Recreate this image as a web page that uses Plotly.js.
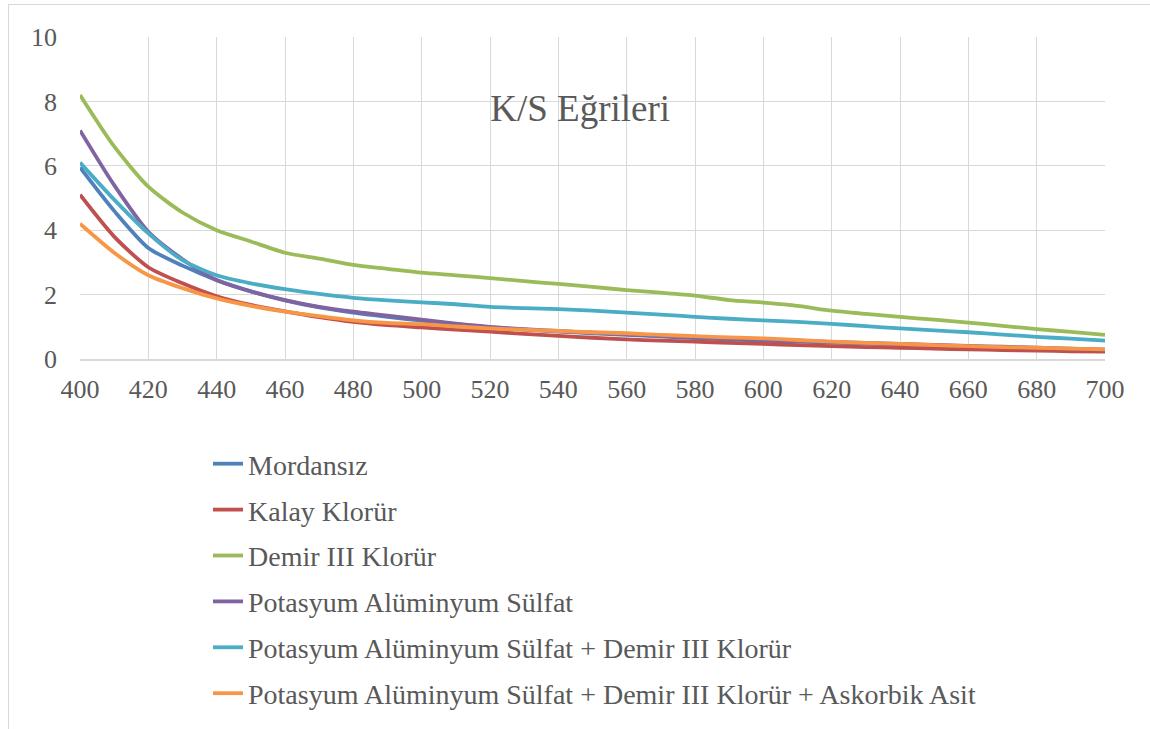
<!DOCTYPE html>
<html>
<head>
<meta charset="utf-8">
<script src="https://cdn.plot.ly/plotly-3.0.1.min.js"></script>
<style>
html,body{margin:0;padding:0;background:#fff;}
#wrap{position:relative;width:1150px;height:729px;overflow:hidden;}
#chart{position:absolute;left:0;top:0;width:1150px;height:729px;}
#frame{position:absolute;left:8px;top:4px;width:1170px;height:760px;border:1px solid #d9d9d9;pointer-events:none;}
</style>
</head>
<body>
<div id="wrap"><div id="chart"></div><div id="frame"></div></div>
<script>
const wavelengths = [400,410,420,430,440,450,460,470,480,490,500,510,520,530,540,550,560,570,580,590,600,610,620,630,640,650,660,670,680,690,700];

const seriesNames = [
  "Mordansız",
  "Kalay Klorür",
  "Demir III Klorür",
  "Potasyum Alüminyum Sülfat",
  "Potasyum Alüminyum Sülfat + Demir III Klorür",
  "Potasyum Alüminyum Sülfat + Demir III Klorür + Askorbik Asit"
];

const mordansiz = [5.95,4.6,3.45,2.9,2.45,2.1,1.82,1.6,1.44,1.31,1.19,1.08,0.98,0.91,0.85,0.80,0.75,0.70,0.65,0.61,0.57,0.54,0.51,0.48,0.45,0.42,0.39,0.36,0.33,0.30,0.27];
const kalayKlorur = [5.1,3.8,2.85,2.35,1.95,1.68,1.48,1.3,1.15,1.05,0.98,0.91,0.85,0.78,0.72,0.66,0.61,0.57,0.54,0.50,0.47,0.43,0.40,0.37,0.35,0.32,0.30,0.28,0.26,0.24,0.23];
const demirKlorur = [8.2,6.6,5.35,4.55,4.0,3.65,3.3,3.12,2.92,2.8,2.68,2.6,2.51,2.42,2.33,2.24,2.14,2.06,1.97,1.83,1.75,1.65,1.5,1.4,1.31,1.22,1.13,1.03,0.93,0.84,0.75];
const potasyumAS = [7.1,5.4,3.95,3.1,2.45,2.1,1.83,1.62,1.47,1.35,1.22,1.1,1.0,0.93,0.87,0.82,0.77,0.72,0.67,0.63,0.59,0.56,0.53,0.50,0.47,0.44,0.41,0.38,0.35,0.32,0.29];
const potasyumDemir = [6.1,4.95,3.9,3.07,2.6,2.35,2.17,2.02,1.9,1.82,1.76,1.7,1.62,1.58,1.55,1.5,1.44,1.38,1.31,1.25,1.2,1.15,1.09,1.02,0.95,0.89,0.83,0.76,0.69,0.63,0.57];
const potasyumDemirAsit = [4.2,3.3,2.6,2.2,1.88,1.65,1.47,1.33,1.2,1.12,1.08,1.01,0.95,0.91,0.87,0.83,0.8,0.75,0.71,0.67,0.64,0.59,0.54,0.5,0.47,0.43,0.4,0.37,0.35,0.32,0.3];

const seriesValues = [mordansiz,kalayKlorur,demirKlorur,potasyumAS,potasyumDemir,potasyumDemirAsit];
const colors = ["#4F81BD","#C0504D","#9BBB59","#8064A2","#4BACC6","#F79646"];

const xTicks = [400,420,440,460,480,500,520,540,560,580,600,620,640,660,680,700];
const yTicks = [0,2,4,6,8,10];

const FONT = "'Liberation Serif','Times New Roman',serif";

const traces = seriesValues.map((vals,i)=>({
  x: wavelengths, y: vals, name: seriesNames[i], type:'scatter', mode:'lines',
  line:{color:colors[i], width:3.8, shape:'spline', smoothing:0.7},
  legendgroup:'g'+i, hoverinfo:'skip'
}));

const layout = {
  width:1150, height:729,
  paper_bgcolor:'rgba(0,0,0,0)', plot_bgcolor:'#fff',
  margin:{l:80, r:45, t:37, b:370, pad:0, autoexpand:false},
  font:{family:FONT, color:'#595959', size:26},
  title:{text:'K/S Eğrileri', font:{family:FONT, size:37, color:'#595959'},
    xref:'paper', x:0.488, xanchor:'center', yref:'container', y:1-108/729, yanchor:'middle'},
  xaxis:{range:[400,700], tickvals:xTicks, ticktext:xTicks.map(String), showgrid:true, automargin:false,
    gridcolor:'#d9d9d9', gridwidth:1, showline:true, linecolor:'#d9d9d9', linewidth:1.5,
    zeroline:false, ticks:'', ticklabelstandoff:6, tickangle:0, tickfont:{size:26, color:'#595959', family:FONT}, fixedrange:true, mirror:false},
  yaxis:{range:[0,10], tickvals:yTicks, ticktext:yTicks.map(String), showgrid:true, automargin:false,
    gridcolor:'#d9d9d9', gridwidth:1, showline:false, zeroline:false, ticks:'',
    ticklabelstandoff:22, tickfont:{size:26, color:'#595959', family:FONT}, fixedrange:true},
  showlegend:true,
  legend:{xref:'paper', yref:'paper', x:(208-80)/1025, xanchor:'left', y:-(439-359)/322, yanchor:'top',
    font:{family:FONT, size:28, color:'#595959'}, traceorder:'grouped', tracegroupgap:6.5,
    bgcolor:'rgba(0,0,0,0)', borderwidth:0}
};

Plotly.newPlot('chart', traces, layout, {displayModeBar:false, staticPlot:true});
</script>
</body>
</html>
